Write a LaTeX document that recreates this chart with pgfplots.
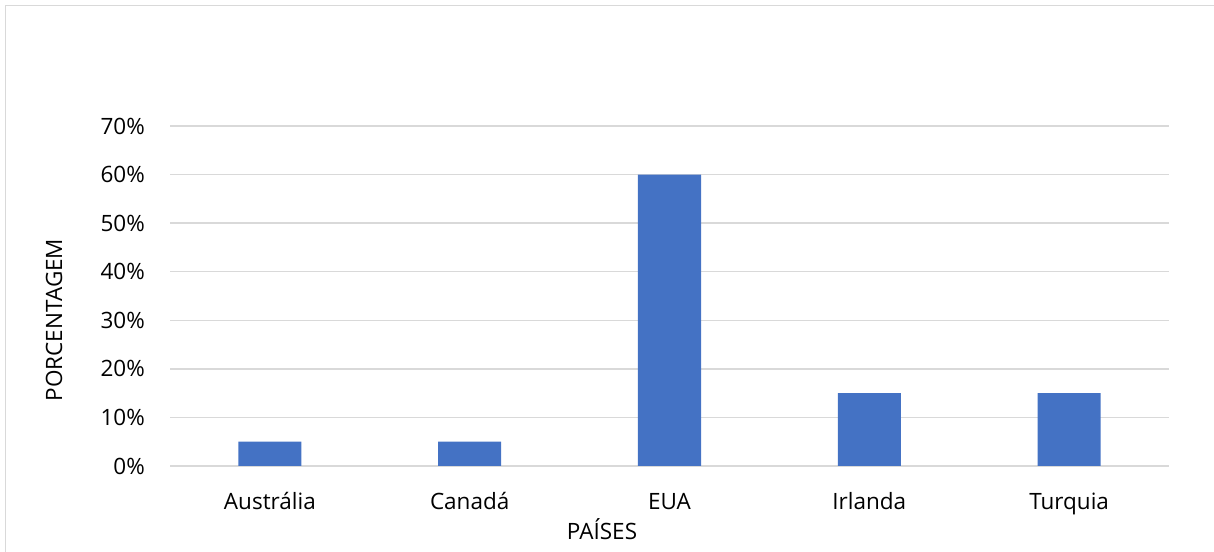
\documentclass[border=0pt]{standalone}
\usepackage{pgfplots}
\pgfplotsset{compat=1.18}
\usepackage{fontspec}
\setmainfont{Open Sans}
\definecolor{barblue}{HTML}{4472C4}
\definecolor{gridgray}{HTML}{D9D9D9}
\newcommand{\chartfont}{\fontsize{22.5bp}{26bp}\selectfont}
\begin{document}
\begin{tikzpicture}
\useasboundingbox (0,0) rectangle (1214bp,552bp);
\draw[gridgray, line width=1.5bp] (5.5bp,0) -- (5.5bp,546.5bp) -- (1214bp,546.5bp);
\begin{axis}[
  at={(170bp,86bp)}, anchor=south west,
  scale only axis,
  width=999bp, height=340bp,
  ybar, bar width=63bp,
  xmin=-0.5, xmax=4.5,
  ymin=0, ymax=0.7,
  xtick={0,1,2,3,4},
  xticklabels={Austrália,Canadá,EUA,Irlanda,Turquia},
  ytick={0,0.1,0.2,0.3,0.4,0.5,0.6,0.7},
  yticklabels={0\%,10\%,20\%,30\%,40\%,50\%,60\%,70\%},
  major tick length=0pt,
  axis line style={draw=none},
  ymajorgrids,
  grid style={gridgray, line width=1.4bp},
  xticklabel style={font=\chartfont, inner sep=0pt, anchor=base, yshift=-43bp},
  yticklabel style={font=\chartfont, inner sep=0pt, anchor=east, xshift=-25bp},
  clip=false,
]
\addplot[fill=barblue, draw=none] coordinates {(0,0.05) (1,0.05) (2,0.60) (3,0.15) (4,0.15)};
\end{axis}
\node[font=\chartfont, rotate=90, inner sep=0pt] at (54bp,232bp) {PORCENTAGEM};
\node[font=\chartfont, inner sep=0pt, anchor=base] at (602bp,13bp) {PAÍSES};
\end{tikzpicture}
\end{document}
